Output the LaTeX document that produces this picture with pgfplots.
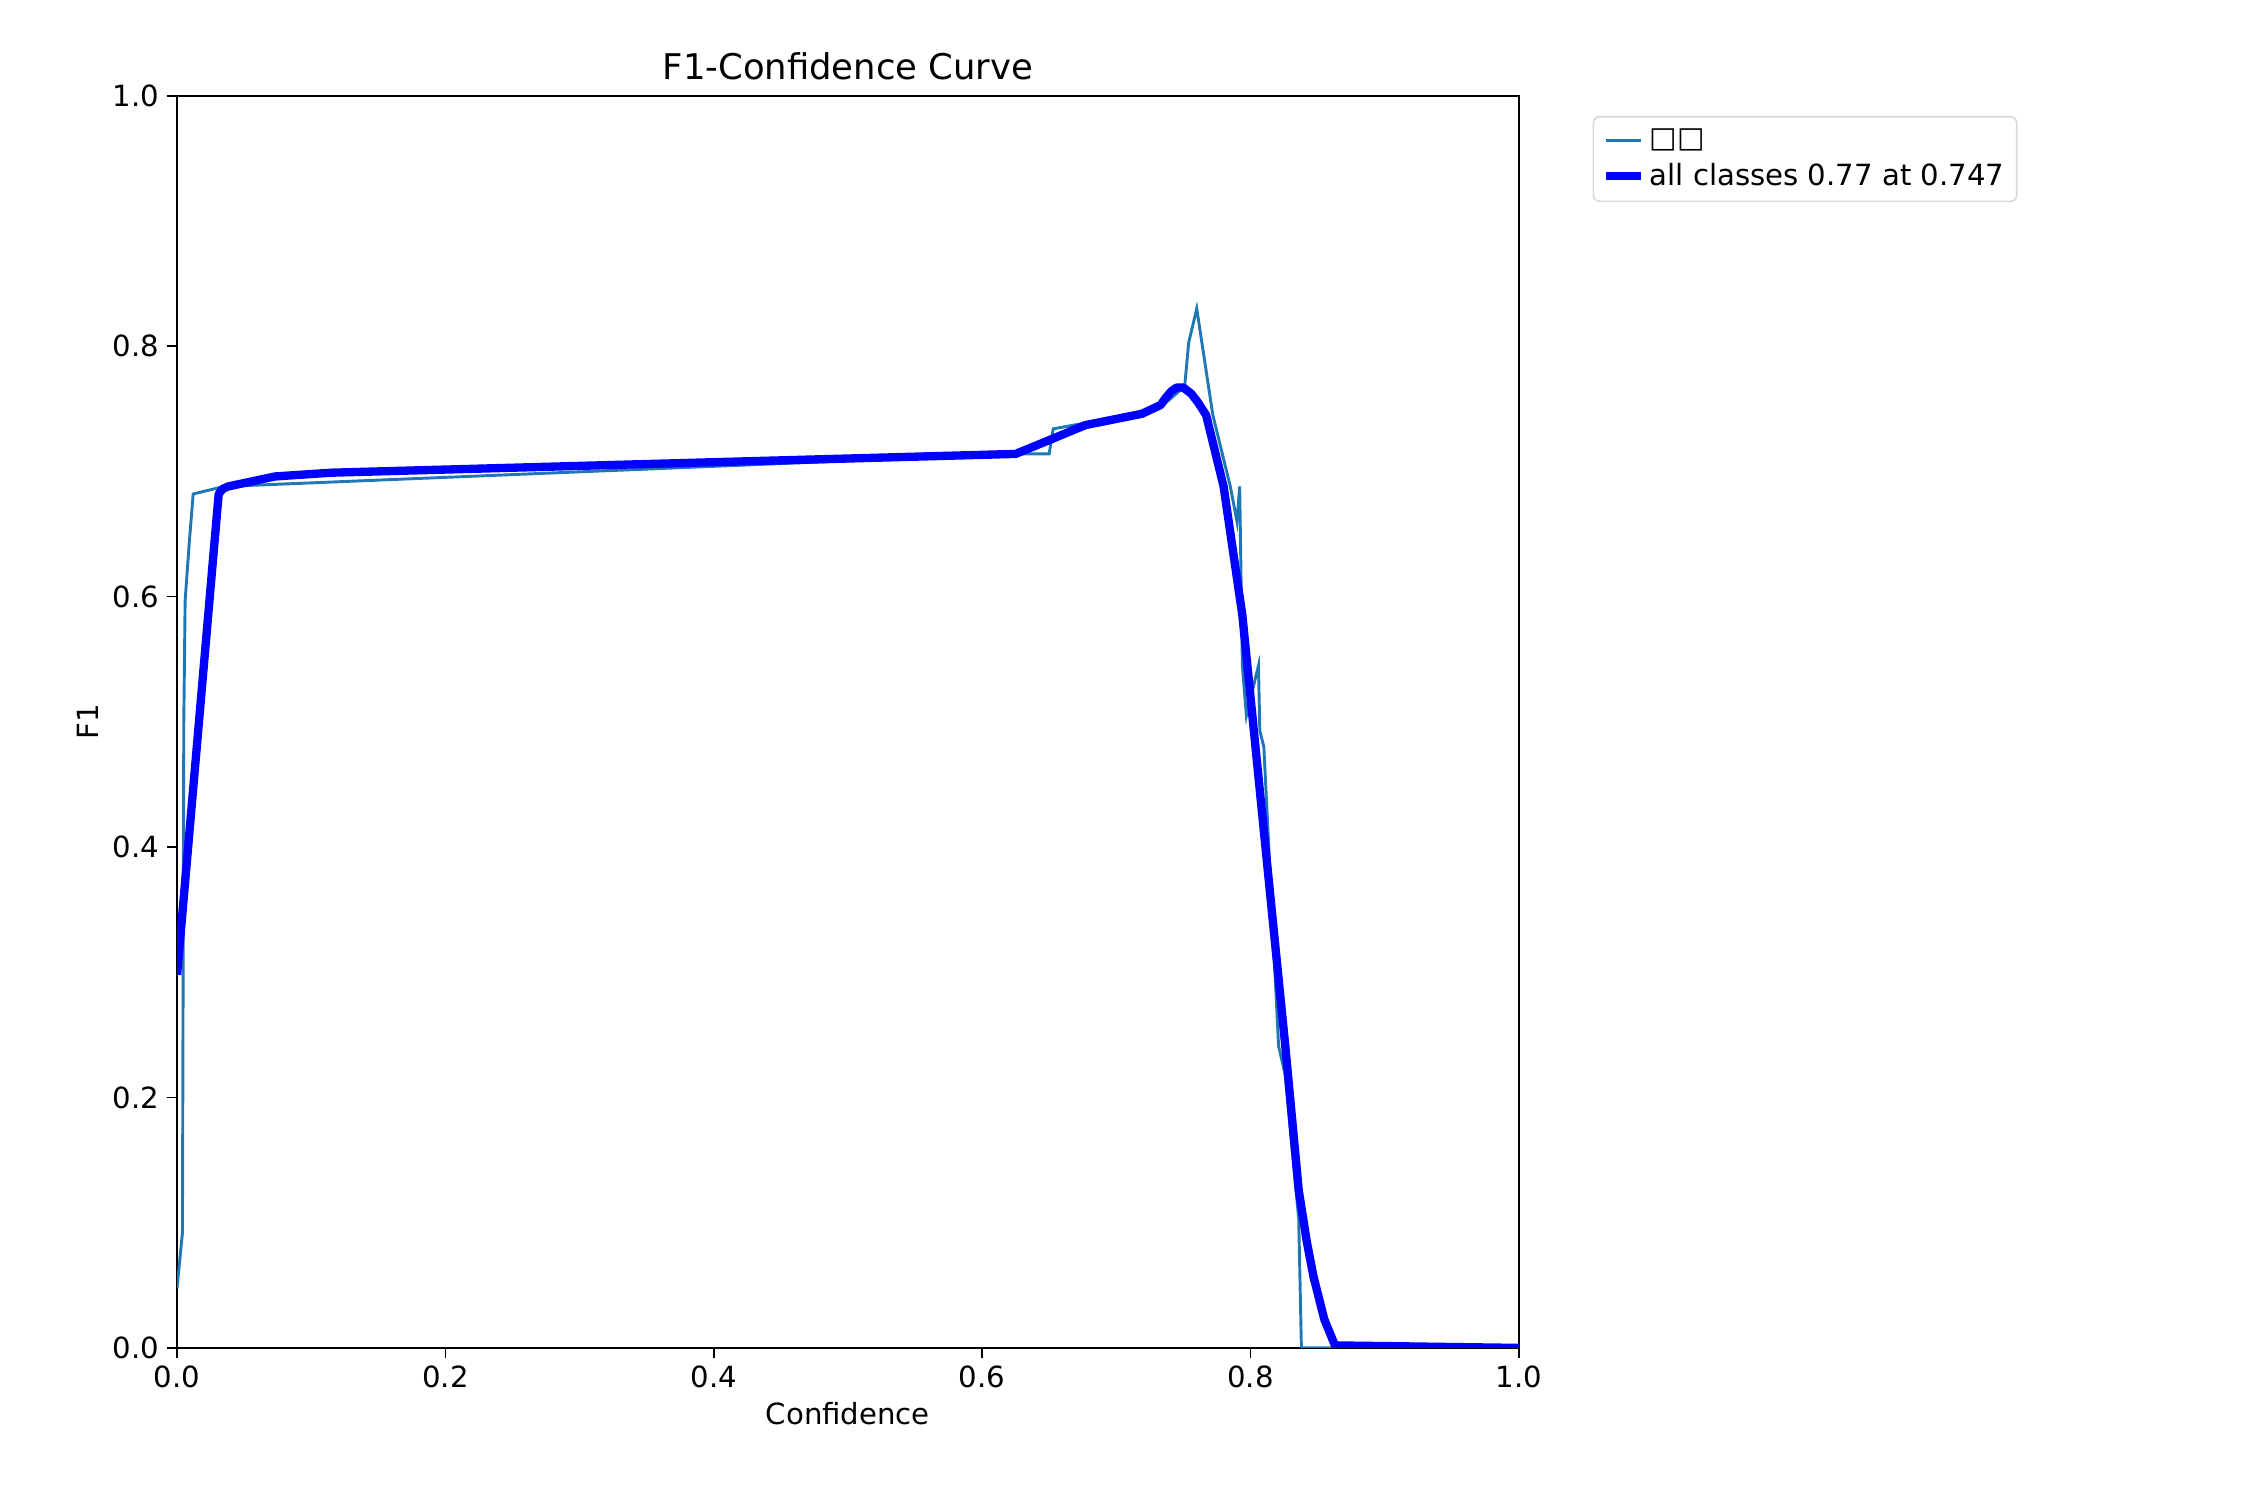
\documentclass[border=0pt]{standalone}
\usepackage{pgfplots}
\pgfplotsset{compat=1.18}
\usepackage{fontspec}
\setmainfont{DejaVu Sans}
\begin{document}
\begin{tikzpicture}
\path (0,0) rectangle (1080pt,720pt);
\begin{axis}[at={(85pt,73pt)},anchor=origin,width=644pt,height=601pt,scale only axis,
xmin=0,xmax=1,ymin=0,ymax=1,
xtick={0,0.2,...,1},ytick={0,0.2,...,1},
xticklabel style={/pgf/number format/.cd,fixed,fixed zerofill,precision=1},
yticklabel style={/pgf/number format/.cd,fixed,fixed zerofill,precision=1},
/pgf/number format/assume math mode=true,
tick align=outside,tick style={black,line width=0.8pt},major tick length=5pt,
axis line style={line width=0.8pt},
xtick pos=bottom,ytick pos=left,
title={F1-Confidence Curve},title style={font=\fontsize{17}{20}\selectfont,yshift=-2pt},
xlabel={Confidence},ylabel={F1},
label style={font=\fontsize{14}{17}\selectfont},
ticklabel style={font=\fontsize{14}{17}\selectfont},
legend style={at={(1.055,0.984)},anchor=north west,draw=black!15,line width=0.8pt,rounded corners=3pt,font=\fontsize{14}{17}\selectfont,cells={anchor=west},row sep=2pt,inner sep=4pt},
legend image post style={},legend cell align=left,
]
\addplot[color={rgb,255:red,31;green,119;blue,180},line width=1.4pt] coordinates {
(0,0.048)(0.004,0.092)(0.005,0.5)(0.006,0.597)(0.009,0.642)(0.012,0.682)(0.035,0.688)(0.625,0.714)(0.65,0.714)(0.653,0.734)(0.714,0.746)(0.735,0.753)(0.751,0.768)(0.754,0.803)(0.760,0.830)(0.772,0.745)(0.785,0.688)(0.790,0.66)(0.792,0.688)(0.794,0.545)(0.797,0.505)(0.806,0.545)(0.807,0.493)(0.810,0.48)(0.821,0.241)(0.826,0.218)(0.836,0.103)(0.838,0)(1,0)};
\addlegendentry{□□}
\addplot[color=blue,line width=4pt,line join=round] coordinates {
(0,0.298)(0.031,0.682)(0.034,0.686)(0.038,0.688)(0.073,0.696)(0.115,0.699)(0.625,0.714)(0.65,0.725)(0.677,0.737)(0.719,0.746)(0.733,0.753)(0.737,0.759)(0.741,0.764)(0.745,0.767)(0.750,0.767)(0.756,0.762)(0.761,0.755)(0.767,0.745)(0.780,0.688)(0.794,0.585)(0.810,0.413)(0.826,0.241)(0.836,0.126)(0.842,0.085)(0.847,0.057)(0.855,0.023)(0.863,0.002)(1,0)};
\addlegendentry{all classes 0.77 at 0.747}
\end{axis}
\end{tikzpicture}
\end{document}
